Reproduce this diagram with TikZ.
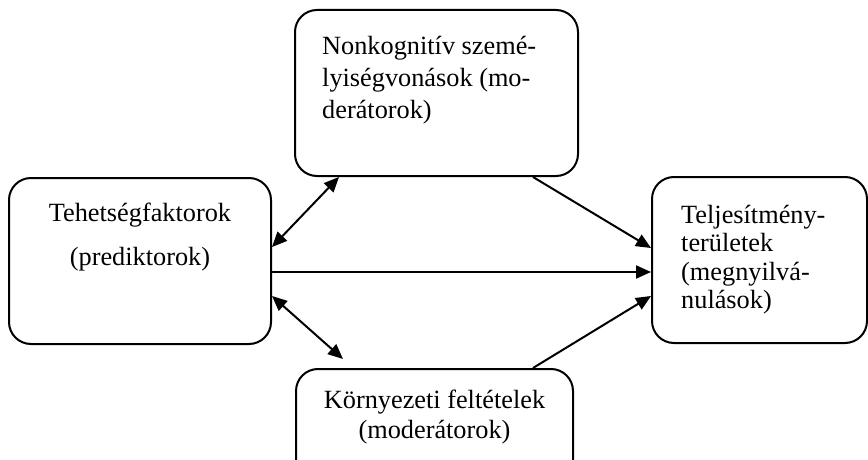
\documentclass[tikz,border=0pt]{standalone}
\usepackage{fontspec}
\setmainfont{Liberation Serif}
\usetikzlibrary{arrows.meta,calc}
\begin{document}
\begin{tikzpicture}[x=1pt,y=-1pt,
  box/.style={draw,line width=2pt,rounded corners=22pt,inner sep=0pt,minimum height=166pt},
  lbl/.style={inner sep=0pt,font=\fontsize{26.3}{31}\selectfont},
  tip/.tip={Triangle[length=15pt,width=13pt]},
  link/.style={line width=2pt,-tip},
  both/.style={line width=2pt,tip-tip}]
\useasboundingbox (0,0) rectangle (868,460);
\clip (0,0) rectangle (868,460);

% boxes
\node[box,minimum width=262pt] (L) at (140,261) {};
\node[box,minimum width=283pt] (T) at (436.5,93) {};
\node[box,minimum width=277pt] (B) at (434.5,452) {};
\node[box,minimum width=215pt] (R) at (759.5,260) {};

% labels
\node[lbl,anchor=base] (l1) at (140,221) {Tehetségfaktorok};
\node[lbl,anchor=base] (l2) at (140,265) {(prediktorok)};

\node[lbl,anchor=base west] (t1) at (322,55) {Nonkognitív szemé-};
\node[lbl,anchor=base west] (t2) at (322,87) {lyiségvonások (mo-};
\node[lbl,anchor=base west] (t3) at (322,118) {derátorok)};

\node[lbl,anchor=base west] (r1) at (681,223) {Teljesítmény-};
\node[lbl,anchor=base west] (r2) at (681,251.5) {területek};
\node[lbl,anchor=base west] (r3) at (681,280) {(megnyilvá-};
\node[lbl,anchor=base west] (r4) at (681,308.5) {nulások)};

\node[lbl,anchor=base] (b1) at (434.5,408) {Környezeti feltételek};
\node[lbl,anchor=base] (b2) at (434.5,438) {(moderátorok)};

% connectors
\coordinate (bEnd) at (343,359);
\draw[both] ($(L.north east)+(0,70)$) -- ($(T.south west)+(45,0)$);
\draw[both] ($(L.north east)+(0,119)$) -- (bEnd);
\draw[link] ($(L.north east)+(0,95)$) -- ($(R.north west)+(0,96)$);
\draw[link] ($(T.south west)+(239,0)$) -- ($(R.north west)+(0,72)$);
\draw[link] ($(B.north west)+(238,0)$) -- ($(R.north west)+(0,120)$);
\end{tikzpicture}
\end{document}
